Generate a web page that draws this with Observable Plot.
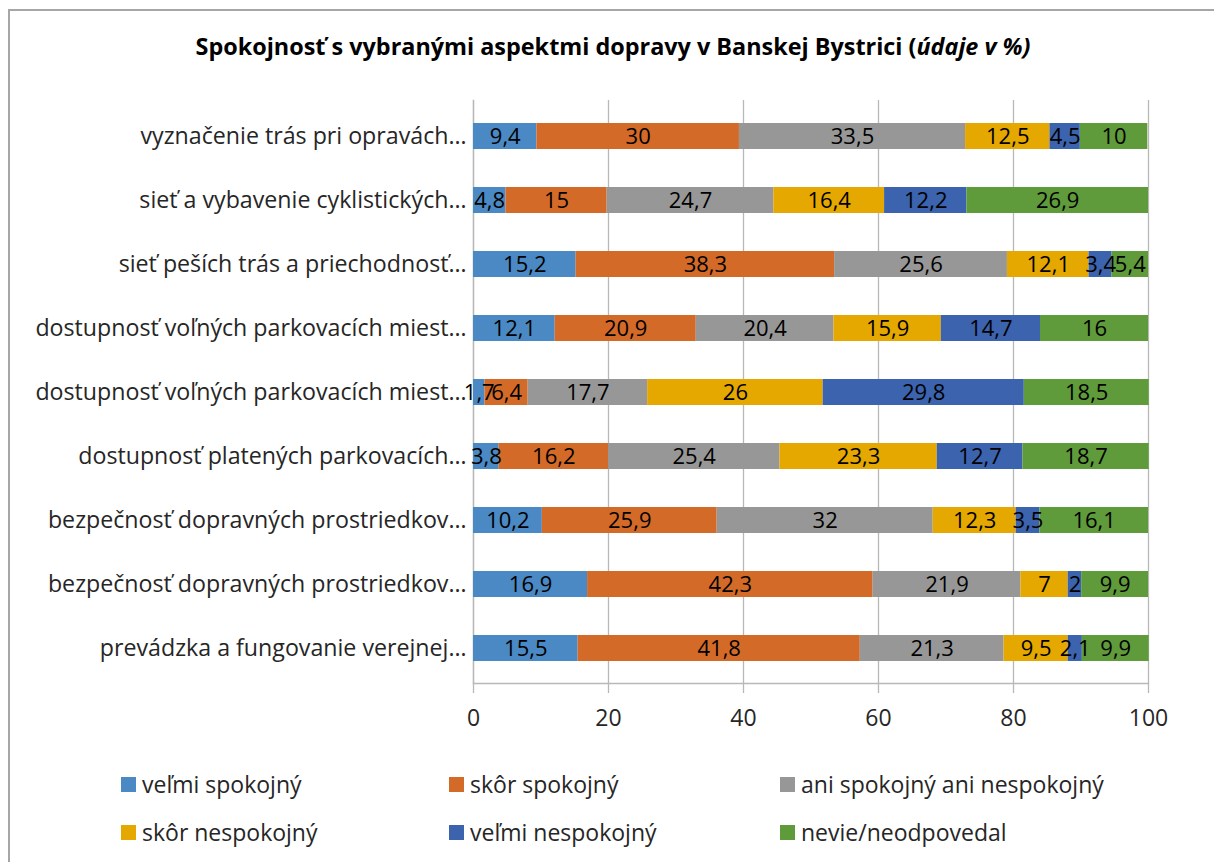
<!DOCTYPE html>
<html>
<head>
<meta charset="utf-8">
<script src="https://cdn.jsdelivr.net/npm/d3@7"></script>
<script src="https://cdn.jsdelivr.net/npm/@observablehq/plot@0.6"></script>
<style>
  html, body { margin: 0; padding: 0; background: #fff; }
  body { width: 1214px; height: 862px; position: relative; overflow: hidden; font-family: "Open Sans", Lato, sans-serif; }
  #frame { position: absolute; left: 8px; top: 9px; width: 1230px; height: 880px; border-left: 2px solid #a6a6a6; border-top: 2px solid #a6a6a6; box-sizing: border-box; }
  #title { position: absolute; left: 0; width: 1226px; top: 30px; text-align: center; font-weight: bold; font-size: 23.4px; color: #000; }
  #title i { font-style: italic; }
  #chart { position: absolute; left: 0; top: 90px; }
  .leg { position: absolute; font-size: 23px; color: #262626; display: flex; align-items: center; white-space: nowrap; }
  .leg span.sw { display: inline-block; width: 15px; height: 15px; margin-right: 6px; }
</style>
</head>
<body>
<div id="frame"></div>
<div id="title">Spokojnosť s vybranými aspektmi dopravy v Banskej Bystrici (<i>údaje v %)</i></div>
<div id="chart"></div>
<div id="legend"></div>
<script>
const rowLabels = [
  "vyznačenie trás pri opravách…",
  "sieť a vybavenie cyklistických…",
  "sieť peších trás a priechodnosť…",
  "dostupnosť voľných parkovacích miest…",
  "dostupnosť voľných parkovacích miest…",
  "dostupnosť platených parkovacích…",
  "bezpečnosť dopravných prostriedkov…",
  "bezpečnosť dopravných prostriedkov…",
  "prevádzka a fungovanie verejnej…"
];
const series = ["veľmi spokojný", "skôr spokojný", "ani spokojný ani nespokojný", "skôr nespokojný", "veľmi nespokojný", "nevie/neodpovedal"];
const colors = ["#4a89c3", "#d46a28", "#979797", "#e4a800", "#3b63ae", "#5f9a3b"];

const velmiSpokojny   = [9.4, 4.8, 15.2, 12.1, 1.7, 3.8, 10.2, 16.9, 15.5];
const skorSpokojny    = [30, 15, 38.3, 20.9, 6.4, 16.2, 25.9, 42.3, 41.8];
const aniAni          = [33.5, 24.7, 25.6, 20.4, 17.7, 25.4, 32, 21.9, 21.3];
const skorNespokojny  = [12.5, 16.4, 12.1, 15.9, 26, 23.3, 12.3, 7, 9.5];
const velmiNespokojny = [4.5, 12.2, 3.4, 14.7, 29.8, 12.7, 3.5, 2, 2.1];
const nevie           = [10, 26.9, 5.4, 16, 18.5, 18.7, 16.1, 9.9, 9.9];
const xTicks = [0, 20, 40, 60, 80, 100];

const valuesBySeries = [velmiSpokojny, skorSpokojny, aniAni, skorNespokojny, velmiNespokojny, nevie];
const data = [];
rowLabels.forEach((lab, i) => {
  series.forEach((s, j) => {
    data.push({row: String(i), cat: s, value: valuesBySeries[j][i]});
  });
});
const fmt = v => String(v).replace(".", ",");

const chart = Plot.plot({
  width: 1214,
  height: 650,
  marginLeft: 473,
  marginRight: 66,
  marginTop: 10,
  marginBottom: 57,
  style: {fontFamily: "'Open Sans', Lato, sans-serif", fontSize: "22px", color: "#262626", background: "transparent"},
  x: {domain: [0, 100], ticks: xTicks},
  y: {domain: rowLabels.map((d, i) => String(i)), paddingInner: 0.6, paddingOuter: 0.3},
  color: {domain: series, range: colors},
  marks: [
    Plot.gridX(xTicks, {stroke: "#b8b8b8", strokeOpacity: 1, strokeWidth: 1.3}),
    Plot.frame({anchor: "bottom", stroke: "#b8b8b8", strokeWidth: 1.3}),
    Plot.frame({anchor: "left", stroke: "#b8b8b8", strokeWidth: 1.3}),
    Plot.axisX({ticks: xTicks, tickSize: 10, tickPadding: 16, fontSize: 23, stroke: "#b8b8b8", strokeWidth: 1.3, color: "#262626", label: null}),
    Plot.axisY({tickSize: 0, tickPadding: 7, fontSize: 23.2, label: null, tickFormat: i => rowLabels[+i]}),
    Plot.barX(data, {x: "value", y: "row", fill: "cat", z: "cat"}),
    Plot.text(data, Plot.stackX({x: "value", y: "row", z: "cat", text: d => fmt(d.value), fill: "#000", fontSize: 22}))
  ]
});
document.getElementById("chart").appendChild(chart);

const legPos = [[121, 784], [449, 784], [780, 784], [121, 832], [449, 832], [780, 832]];
const legend = document.getElementById("legend");
series.forEach((s, j) => {
  const d = document.createElement("div");
  d.className = "leg";
  d.style.left = legPos[j][0] + "px";
  d.style.top = (legPos[j][1] - 16) + "px";
  d.innerHTML = `<span class="sw" style="background:${colors[j]}"></span>${s}`;
  legend.appendChild(d);
});
</script>
</body>
</html>
